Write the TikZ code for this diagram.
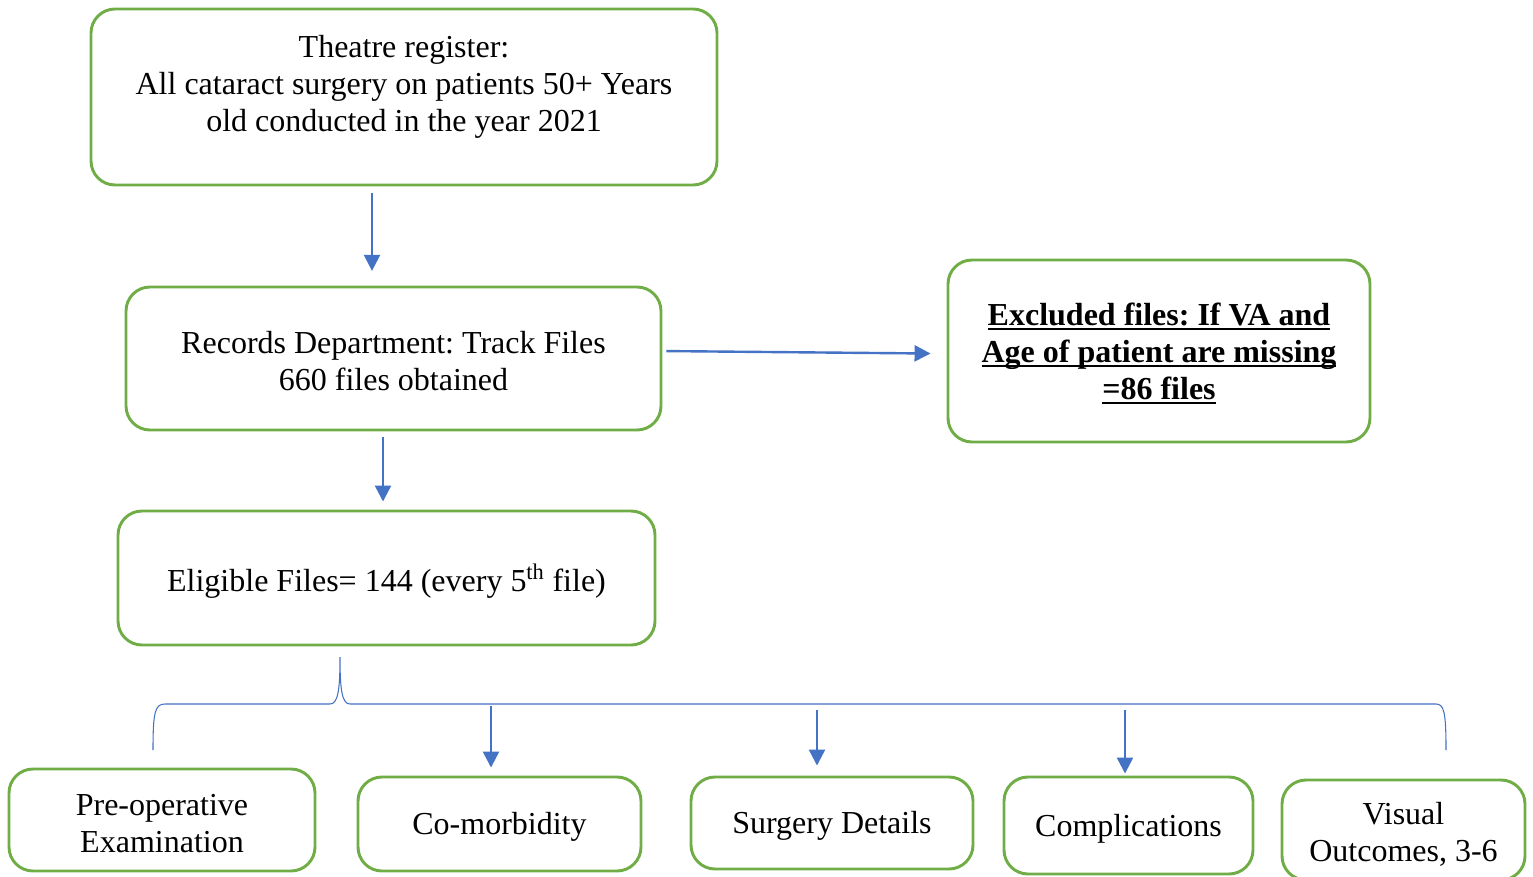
\documentclass[tikz,border=0pt]{standalone}
\usepackage{fontspec}
\setmainfont{Liberation Serif}
\usetikzlibrary{calc,arrows.meta}
\definecolor{boxgreen}{HTML}{70AD47}
\definecolor{arrowblue}{HTML}{4472C4}
\newcommand{\ulbold}[1]{\setbox0\hbox{\textbf{#1}}\rlap{\rule[-3.6pt]{\wd0}{2pt}}\box0}
\newcommand{\topstrut}{\rule{0pt}{21pt}}
\tikzset{
  stepbox/.style={draw=boxgreen, line width=2.2pt, rounded corners=18pt, align=center, inner sep=0pt,
    font=\fontsize{24}{27.75}\selectfont\frenchspacing},
  flow/.style={draw=arrowblue, line width=1.8pt, -{Triangle[length=12pt,width=12pt]}},
  bracket/.style={draw=arrowblue, line width=0.8pt}
}

\begin{document}
\begin{tikzpicture}[x=0.75pt,y=-0.75pt]
    \useasboundingbox (0,0) rectangle (1533,877);

    \node [stepbox, minimum width=469.5pt, minimum height=132pt] (theatre) at (404,97)
      {\topstrut Theatre register:\\All cataract surgery on patients 50+ Years\\old conducted in the year 2021\rule[-24pt]{0pt}{24pt}};
    \node [stepbox, minimum width=401.25pt, minimum height=107.25pt] (records) at (393.5,358.5)
      {\topstrut Records Department: Track Files\\660 files obtained};
    \node [stepbox, minimum width=316.5pt, minimum height=136.5pt] (excluded) at (1159,351)
      {\topstrut\ulbold{Excluded files: If VA and}\\\ulbold{Age of patient are missing}\\\ulbold{=86 files}};
    \node [stepbox, minimum width=402.75pt, minimum height=100.5pt] (eligible) at (386.5,578)
      {\rule{0pt}{26pt}Eligible Files= 144 (every 5\textsuperscript{th} file)};

    \node [stepbox, minimum width=229.5pt, minimum height=76.5pt] (preop) at (162,820)
      {\topstrut Pre-operative\\Examination};
    \node [stepbox, minimum width=212.25pt, minimum height=70.5pt] (comorb) at (499.5,824)
      {\topstrut Co-morbidity};
    \node [stepbox, minimum width=211.5pt, minimum height=69pt] (surgery) at (832,823)
      {\topstrut Surgery Details};
    \node [stepbox, minimum width=186.75pt, minimum height=72.75pt] (compl) at (1128.5,825.5)
      {\topstrut Complications};
    \node [stepbox, minimum width=182.25pt, minimum height=75pt] (visual) at (1403.5,830)
      {\rule{0pt}{23pt}Visual\\Outcomes, 3-6};

    \coordinate (a1) at (372,0);
    \coordinate (a3) at (383,0);
    \coordinate (b2) at (491,706);
    \coordinate (b3) at (817,710);
    \coordinate (b4) at (1125,710);

    \draw [flow, shorten <=5pt, shorten >=11pt] (theatre.south -| a1) -- (records.north -| a1);
    \draw [flow, shorten <=3pt, shorten >=12pt] ([yshift=5.6pt]records.east) -- ([yshift=-2pt]excluded.west);
    \draw [flow, shorten <=4.5pt, shorten >=6pt] (records.south -| a3) -- (eligible.north -| a3);

    \draw [bracket] (153,750) .. controls (153,712) and (155,704) .. (165,704) -- (330,704)
      .. controls (338,704) and (340,690) .. (340,657) .. controls (340,690) and (342,704) .. (350,704)
      -- (1436,704) .. controls (1444,704) and (1446,712) .. (1446,750);

    \draw [flow, shorten >=6pt] (b2) -- (b2 |- comorb.north);
    \draw [flow, shorten >=7.5pt] (b3) -- (b3 |- surgery.north);
    \draw [flow, shorten >=1.5pt] (b4) -- (b4 |- compl.north);
\end{tikzpicture}
\end{document}
